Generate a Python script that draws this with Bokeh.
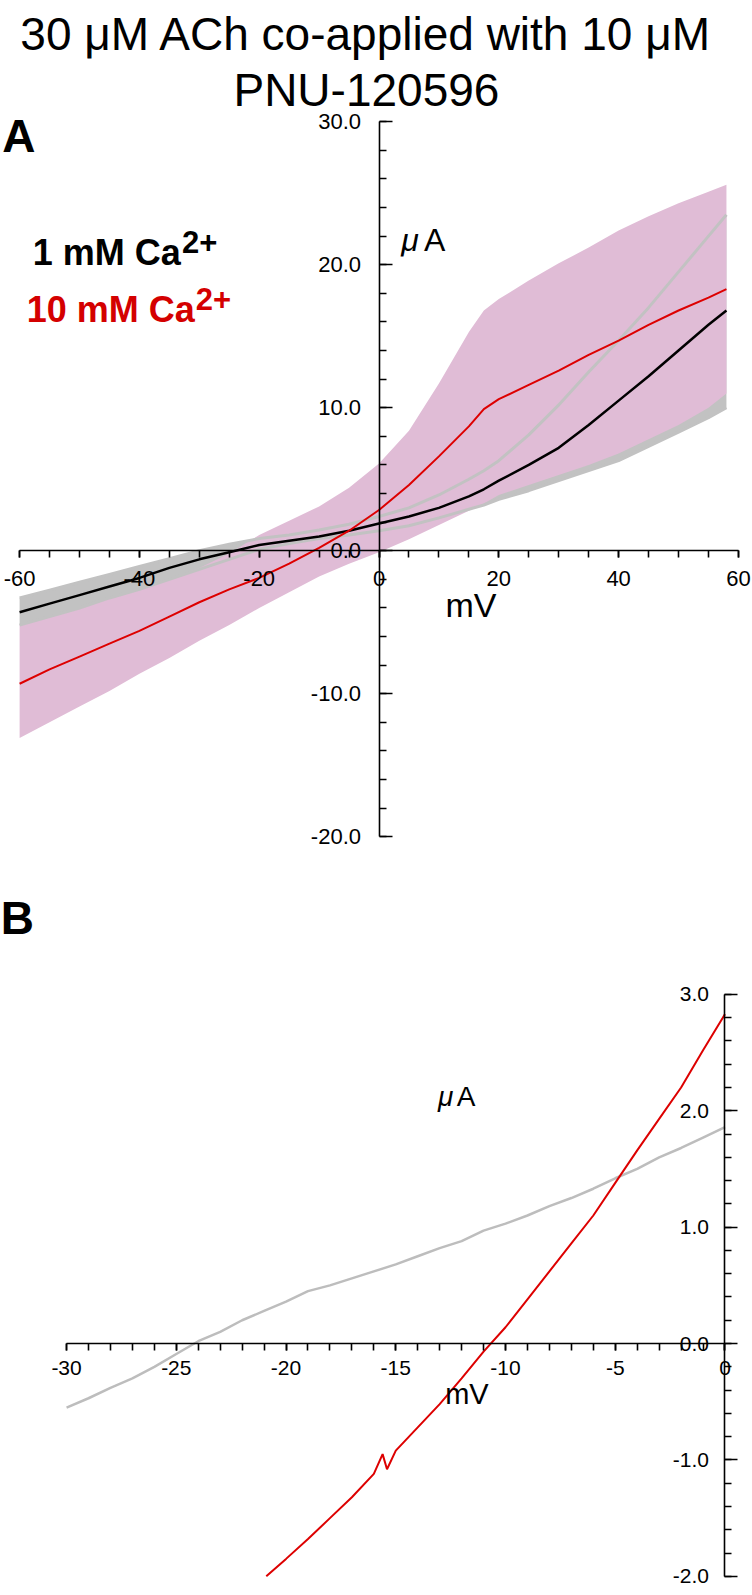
from bokeh.plotting import figure
from bokeh.models import Range1d, Label, SingleIntervalTicker, NumeralTickFormatter
from bokeh.layouts import column
from bokeh.embed import file_html
from bokeh.resources import INLINE

# ---------------- data : panel A (membrane potential in mV, current in uA)
mv_a = [-60, -55, -50, -45, -40, -35, -30, -25, -20, -15, -10, -5, 0, 5, 10, 15, 17.5,
        20, 25, 30, 35, 40, 45, 50, 55, 58]
black_a = [-4.3, -3.7, -3.1, -2.5, -1.9, -1.2, -0.6, -0.1, 0.4, 0.7, 1.0, 1.4, 1.9, 2.4,
           3.0, 3.8, 4.3, 4.9, 6.0, 7.2, 8.8, 10.5, 12.2, 14.0, 15.8, 16.8]
gray_hi_a = [-3.3, -2.75, -2.2, -1.65, -1.1, -0.55, 0.0, 0.45, 0.85, 1.1, 1.45, 1.85, 2.4,
             3.0, 3.9, 5.0, 5.6, 6.3, 8.1, 10.2, 12.5, 14.7, 17.0, 19.5, 22.0, 23.5]
gray_lo_a = [-5.2, -4.6, -4.0, -3.3, -2.7, -2.0, -1.3, -0.6, 0.1, 0.5, 0.85, 1.1, 1.4,
             1.75, 2.3, 2.9, 3.2, 3.6, 4.2, 4.9, 5.6, 6.3, 7.3, 8.3, 9.3, 10.0]
red_a = [-9.3, -8.3, -7.4, -6.5, -5.6, -4.6, -3.6, -2.7, -1.9, -0.9, 0.2, 1.4, 2.85, 4.6,
         6.6, 8.7, 9.9, 10.6, 11.6, 12.6, 13.7, 14.7, 15.8, 16.8, 17.7, 18.3]
pink_hi_a = [-5.2, -4.6, -4.0, -3.3, -2.7, -2.0, -1.2, -0.2, 1.1, 2.1, 3.1, 4.4, 6.1, 8.4,
             11.7, 15.3, 16.8, 17.6, 18.9, 20.1, 21.2, 22.4, 23.4, 24.3, 25.1, 25.6]
pink_lo_a = [-13.1, -12.0, -10.9, -9.8, -8.6, -7.5, -6.3, -5.2, -4.0, -2.9, -1.8, -0.9, -0.1,
             0.8, 1.8, 2.8, 3.3, 3.9, 4.6, 5.3, 6.0, 6.8, 7.8, 8.8, 10.0, 11.0]

# ---------------- data : panel B
mv_b_gray = [-30, -29, -28, -27, -26, -25, -24, -23, -22, -21, -20, -19, -18, -17, -16, -15,
             -14, -13, -12, -11, -10, -9, -8, -7, -6, -5, -4, -3, -2, -1, 0]
gray_b = [-0.55, -0.47, -0.38, -0.3, -0.2, -0.09, 0.02, 0.1, 0.2, 0.28, 0.36, 0.45, 0.5,
          0.56, 0.62, 0.68, 0.75, 0.82, 0.88, 0.97, 1.03, 1.1, 1.18, 1.25, 1.33, 1.42, 1.5,
          1.6, 1.68, 1.77, 1.86]
mv_b_red = [-20.9, -20, -19, -18, -17, -16, -15.6, -15.4, -15, -14, -13, -12, -11, -10, -9,
            -8, -7, -6, -5, -4, -3, -2, -1, 0]
red_b = [-2.0, -1.85, -1.68, -1.5, -1.32, -1.12, -0.95, -1.08, -0.92, -0.72, -0.52, -0.3,
         -0.07, 0.14, 0.38, 0.62, 0.86, 1.1, 1.38, 1.66, 1.93, 2.2, 2.52, 2.83]

title_lines = ["30 \u03bcM ACh co-applied with 10 \u03bcM", "PNU-120596"]

FONT = "Liberation Sans"
RED = "#dd0000"
PINK = "#e0bcd6"
GRAY = "#c2c2c2"

W = 752
HA = 870
HB = 724


def style_axes(p, xb, yb, xint, xminor, yint, yminor, ylabel_standoff, xlabel_standoff, fs):
    p.grid.visible = False
    p.outline_line_color = None
    p.background_fill_color = "white"
    p.border_fill_color = "white"
    p.xaxis.fixed_location = 0
    p.yaxis.fixed_location = 0
    p.xaxis.bounds = xb
    p.yaxis.bounds = yb
    p.xaxis.ticker = SingleIntervalTicker(interval=xint, num_minor_ticks=xminor)
    p.yaxis.ticker = SingleIntervalTicker(interval=yint, num_minor_ticks=yminor)
    p.xaxis.formatter = NumeralTickFormatter(format="0")
    p.yaxis.formatter = NumeralTickFormatter(format="0.0")
    for ax in (p.xaxis, p.yaxis):
        ax.axis_line_color = "black"
        ax.axis_line_width = 1.6
        ax.major_tick_line_color = "black"
        ax.minor_tick_line_color = "black"
        ax.major_tick_line_width = 1.6
        ax.minor_tick_line_width = 1.6
        ax.major_label_text_font = FONT
        ax.major_label_text_font_size = fs
        ax.major_label_text_color = "black"
    p.xaxis.major_tick_out = 7
    p.xaxis.major_tick_in = 0
    p.xaxis.minor_tick_out = 7
    p.xaxis.minor_tick_in = 0
    p.xaxis.major_label_standoff = xlabel_standoff
    p.yaxis.major_tick_in = 13
    p.yaxis.major_tick_out = 0
    p.yaxis.minor_tick_in = 7
    p.yaxis.minor_tick_out = 0
    p.yaxis.major_label_standoff = ylabel_standoff


def lab(p, x, y, text, size, color="black", style="normal", align="left"):
    p.add_layout(Label(x=x, y=y, text=text, text_font=FONT, text_font_size=size,
                       text_color=color, text_font_style=style, text_align=align,
                       text_baseline="alphabetic"))


# ---------------- panel A  (frame fills the canvas; axes cross at the origin)
pA = figure(width=W, height=HA, x_range=Range1d(-63.19, 62.35), y_range=Range1d(-22.36, 38.48),
            output_backend="svg", toolbar_location=None,
            min_border_left=0, min_border_right=0, min_border_top=0, min_border_bottom=0)
style_axes(pA, (-60, 60), (-20, 30), 20, 4, 10, 5, 18, 13, "22px")

pA.varea(x=mv_a, y1=gray_lo_a, y2=gray_hi_a, fill_color=GRAY)
pA.varea(x=mv_a, y1=pink_lo_a, y2=pink_hi_a, fill_color=PINK)
pA.line(mv_a, gray_hi_a, line_color=GRAY, line_width=3)
pA.line(mv_a, gray_lo_a, line_color=GRAY, line_width=3)
pA.line(mv_a, black_a, line_color="black", line_width=2.5)
pA.line(mv_a, red_a, line_color=RED, line_width=2)

# title (two centred lines)
lab(pA, -2.1, 36.17, title_lines[0], "46px", align="center")
lab(pA, -2.1, 32.25, title_lines[1], "46px", align="center")
# panel letter
lab(pA, -62.9, 29.0, "A", "46px", style="bold")
# legend
lab(pA, -57.8, 20.88, "1 mM Ca", "36px", style="bold")
lab(pA, -32.9, 21.62, "2+", "31px", style="bold")
lab(pA, -58.8, 16.89, "10 mM Ca", "36px", color="#d40000", style="bold")
lab(pA, -30.6, 17.59, "2+", "31px", color="#d40000", style="bold")
# unit labels
lab(pA, 3.7, 21.75, "\u03bc", "32px", style="italic")
lab(pA, 7.5, 21.75, "A", "32px")
lab(pA, 11.1, -3.8, "mV", "34px")

# ---------------- panel B
pB = figure(width=W, height=HB, x_range=Range1d(-33.01, 1.253), y_range=Range1d(-2.156, 4.064),
            output_backend="svg", toolbar_location=None,
            min_border_left=0, min_border_right=0, min_border_top=0, min_border_bottom=0)
style_axes(pB, (-30, 0), (-2, 3), 5, 5, 1, 5, 16, 10, "21px")

pB.line(mv_b_gray, gray_b, line_color="#bdbdbd", line_width=2.5)
pB.line(mv_b_red, red_b, line_color=RED, line_width=2)

lab(pB, -33.0, 3.66, "B", "46px", style="bold")
lab(pB, -13.08, 2.12, "\u03bc", "28px", style="italic")
lab(pB, -12.22, 2.12, "A", "28px")
lab(pB, -12.75, -0.43, "mV", "29px")

layout = column(pA, pB, spacing=0)
open("out.html", "w").write(file_html(layout, INLINE))
